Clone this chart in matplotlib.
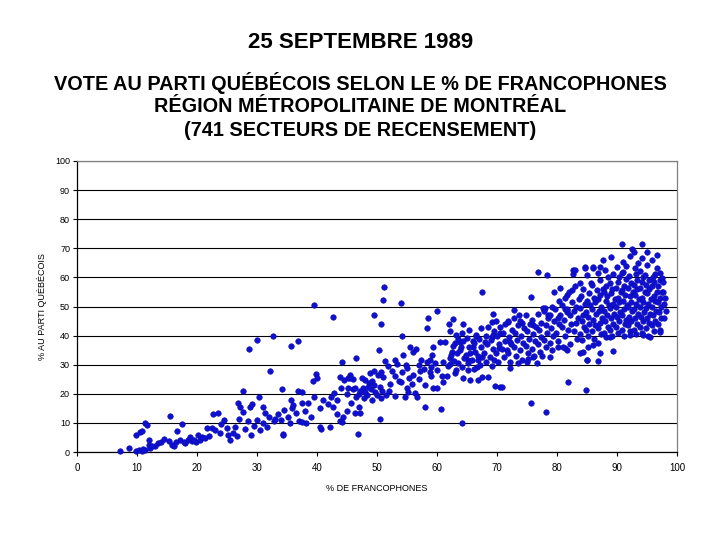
import matplotlib
matplotlib.use("Agg")
import matplotlib.pyplot as plt

plt.rcParams['font.family'] = ['Liberation Sans', 'DejaVu Sans']

title_main = "25 SEPTEMBRE 1989"
title_sub = ["VOTE AU PARTI QUÉBÉCOIS SELON LE % DE FRANCOPHONES",
             "RÉGION MÉTROPOLITAINE DE MONTRÉAL",
             "(741 SECTEURS DE RECENSEMENT)"]
x_label = "% DE FRANCOPHONES"
y_label = "% AU PARTI QUÉBÉCOIS"
x_ticks = [0, 10, 20, 30, 40, 50, 60, 70, 80, 90, 100]
y_ticks = [0, 10, 20, 30, 40, 50, 60, 70, 80, 90, 100]

# (% francophones, % Parti Québécois)
secteurs_faibles = [
    (7.2, 0.3), (8.7, 1.4), (9.8, 0.5), (10.3, 0.8), (10.8, 0.3), (11.3, 0.7), (9.8, 5.8), (10.5, 6.9),
    (10.9, 7.2), (11.3, 10.0), (11.7, 9.2), (12.0, 4.0), (12.0, 2.5), (12.2, 1.5), (13.5, 3.0), (14.0, 3.3),
    (15.5, 12.4), (15.4, 3.8), (15.8, 2.5), (16.2, 2.0), (16.7, 7.2), (17.5, 9.6), (17.2, 4.0), (18.0, 3.0),
    (18.5, 4.2), (19.2, 3.8), (19.8, 3.5), (20.5, 4.1), (20.8, 5.0), (21.3, 4.8), (21.7, 8.2), (22.5, 8.2),
    (22.7, 13.0), (23.8, 6.5), (24.5, 11.0), (25.0, 8.2), (25.2, 5.8), (25.5, 4.1), (26.3, 8.6), (26.6, 5.5),
    (27.7, 21.0), (26.8, 17.0), (27.2, 15.5), (27.7, 13.7), (28.7, 35.4), (30.0, 38.5), (32.7, 40.0),
    (32.2, 27.8), (34.2, 21.6), (35.7, 36.4), (36.8, 38.0), (28.0, 8.0), (28.5, 10.5), (29.0, 6.0),
    (29.5, 9.0), (30.0, 11.0), (30.5, 7.5), (31.0, 10.0), (31.7, 8.5), (28.8, 15.5), (30.3, 19.0),
    (31.0, 15.5), (32.0, 12.0), (32.8, 10.5), (33.5, 13.0), (34.0, 11.0), (34.5, 14.5), (35.2, 12.0),
    (35.8, 15.0), (36.5, 13.5), (34.3, 5.8), (35.7, 18.0), (37.0, 10.5), (13.0, 2.0), (14.5, 4.5),
    (17.8, 3.5), (18.8, 5.2), (19.5, 4.0), (20.2, 6.0), (22.0, 5.5), (23.0, 7.5), (23.5, 13.5), (24.0, 9.5),
    (26.0, 6.5), (27.0, 11.5), (29.2, 16.5), (31.3, 13.5), (33.0, 11.5), (36.0, 16.0), (37.5, 17.0),
    (11.0, 1.0), (12.5, 2.0), (16.5, 3.5), (34.3, 6.2), (36.8, 21.0), (35.5, 10.0),
]

secteurs_mixtes = [
    (39.5, 50.5), (42.7, 46.4), (49.5, 47.1), (50.7, 44.0), (51.2, 56.7), (51.0, 52.2), (54.0, 51.2),
    (58.5, 46.0), (58.3, 42.6), (60.0, 48.5), (54.2, 40.0), (50.3, 35.0), (55.5, 36.0), (56.5, 35.4),
    (44.2, 31.0), (46.5, 32.3), (51.3, 31.3), (53.0, 31.6), (39.8, 26.8), (39.3, 24.4),
    (43.8, 25.8), (44.5, 24.7), (45.2, 25.5), (46.0, 25.0), (45.5, 26.3), (48.0, 24.7), (48.6, 23.7),
    (49.2, 24.5), (48.8, 27.0), (49.5, 28.0), (50.2, 26.5), (51.0, 25.8), (50.6, 27.5), (51.8, 29.5),
    (52.5, 28.0), (53.0, 26.0), (53.6, 24.5), (54.2, 27.5), (54.8, 29.8), (55.3, 25.5), (55.8, 23.5),
    (52.2, 23.2), (53.4, 30.2), (57.0, 30.0), (57.8, 28.5), (58.4, 31.0), (59.0, 29.2), (59.6, 30.6),
    (60.0, 28.2), (58.8, 27.5), (57.4, 31.5), (40.5, 15.0), (41.0, 18.0), (41.8, 16.5), (42.3, 19.0),
    (42.7, 15.5), (43.3, 17.9), (40.7, 7.9), (42.2, 8.6), (46.8, 6.2), (50.5, 11.3), (58.0, 15.5),
    (45.0, 14.0), (45.7, 16.8), (46.3, 13.4), (47.0, 15.5), (43.3, 13.0), (43.8, 10.5), (44.3, 12.0),
    (47.0, 20.0), (47.6, 22.0), (48.3, 19.5), (49.0, 21.5), (49.7, 20.5), (50.5, 22.3), (50.7, 18.5),
    (51.5, 19.6), (53.0, 19.2), (54.7, 18.9), (56.3, 20.3), (56.7, 18.9), (38.0, 14.0), (38.5, 17.0),
    (39.0, 12.0), (39.5, 19.0), (38.2, 10.0), (37.5, 20.5), (44.0, 22.0), (45.0, 20.0), (46.0, 21.5),
    (47.5, 25.5), (52.0, 21.0), (55.0, 22.0), (56.0, 26.5), (57.0, 25.0), (58.0, 23.0), (59.0, 26.0),
    (40.0, 25.5), (45.5, 25.4), (46.3, 22.0), (45.2, 22.0), (46.5, 19.0), (47.2, 21.0), (47.8, 18.5),
    (48.5, 22.5), (49.5, 23.0), (50.0, 19.5), (49.2, 18.0), (48.0, 20.5), (50.8, 21.0), (44.2, 10.3),
    (37.5, 10.3), (47.2, 13.4), (42.8, 20.3), (40.5, 8.6), (54.3, 33.3), (59.3, 36.0), (59.2, 33.3),
    (58.8, 31.6), (56.0, 34.5), (55.0, 29.0), (60.7, 14.8), (59.3, 22.0), (55.2, 20.5), (54.0, 24.0),
]

secteurs_majoritaires = [
    (60.5, 37.8), (61.3, 37.8), (63.0, 37.5), (63.8, 37.8), (64.2, 41.0), (65.5, 34.0), (66.0, 36.0),
    (66.5, 40.2), (68.0, 37.8), (69.2, 39.5), (69.3, 40.2), (70.5, 41.0), (69.5, 31.6), (70.3, 35.7),
    (71.7, 35.0), (72.2, 37.8), (57.2, 28.0), (61.0, 31.0), (62.2, 32.3), (63.5, 30.6), (65.2, 31.6),
    (66.8, 31.6), (67.5, 32.6), (65.2, 28.2), (66.7, 29.2), (66.8, 24.7), (64.3, 25.4), (65.5, 24.7),
    (67.5, 25.8), (68.5, 25.8), (69.7, 22.7), (70.5, 22.3), (60.0, 22.0), (60.8, 26.0), (61.7, 26.0),
    (64.2, 10.0), (62.7, 45.7), (62.0, 44.0), (64.3, 44.0), (67.5, 55.0), (69.3, 47.4), (69.2, 44.7),
    (72.8, 48.8), (73.7, 47.0), (71.8, 44.7), (74.2, 44.3), (76.0, 43.6), (75.7, 53.3), (76.8, 61.9),
    (78.3, 60.8), (82.7, 62.5), (79.5, 55.0), (80.5, 56.4), (81.7, 54.0), (78.0, 49.5), (78.5, 47.0),
    (80.5, 47.0), (81.7, 48.8), (72.2, 29.0), (73.5, 30.5), (75.0, 31.0), (76.7, 30.6), (78.8, 32.6),
    (75.7, 16.8), (78.2, 13.7), (81.8, 24.0), (84.8, 21.3), (70.8, 22.3), (76.0, 32.6), (77.5, 33.0),
    (75.2, 32.0), (80.2, 36.0), (81.3, 35.7), (83.8, 34.0), (85.0, 31.6), (82.5, 55.7), (83.8, 58.0),
    (84.7, 63.6), (82.7, 61.0), (81.3, 49.0), (77.7, 49.5), (64.0, 36.0), (63.5, 39.0), (66.0, 38.0),
    (61.8, 29.5), (62.5, 34.5), (61.0, 24.0), (63.0, 27.0), (62.2, 41.5),
    (62.1, 30.2), (62.4, 33.2), (62.6, 36.3), (63.2, 28.1), (62.9, 31.2), (63.4, 34.1), (63.1, 40.2),
    (64.1, 29.1), (64.5, 32.2), (63.9, 35.1), (64.4, 38.2), (65.1, 30.5), (64.8, 33.5), (65.4, 36.1),
    (65.0, 39.2), (65.3, 42.0), (66.2, 28.5), (65.9, 31.5), (66.4, 34.5), (66.1, 37.5), (66.5, 40.0),
    (67.1, 30.0), (66.8, 33.0), (67.4, 36.0), (67.0, 39.0), (67.3, 42.5), (68.2, 31.0), (67.8, 34.0),
    (68.4, 37.0), (68.1, 40.0), (68.5, 43.0), (69.1, 29.5), (68.9, 32.5), (69.4, 35.5), (69.0, 38.5),
    (69.5, 41.5), (70.2, 31.0), (69.8, 34.0), (70.4, 37.0), (70.0, 40.0), (70.5, 43.0), (69.9, 45.0),
    (71.1, 32.5), (70.8, 35.5), (71.3, 38.0), (71.0, 41.0), (71.4, 44.0), (72.1, 31.0), (71.8, 34.0),
    (72.4, 37.0), (72.0, 39.5), (72.5, 42.0), (71.9, 45.0), (73.1, 33.0), (72.8, 36.0), (73.4, 38.5),
    (73.0, 41.0), (73.5, 43.5), (72.9, 46.0), (74.2, 31.5), (73.8, 35.0), (74.4, 37.5), (74.0, 40.0),
    (74.5, 42.5), (73.9, 45.0), (75.1, 34.0), (74.8, 36.5), (75.4, 39.0), (75.0, 41.5), (75.5, 44.0),
    (74.9, 47.0), (76.2, 33.0), (75.8, 35.5), (76.4, 38.0), (76.0, 40.5), (76.5, 43.0), (75.9, 45.5),
    (77.1, 34.5), (76.8, 37.0), (77.3, 39.5), (77.0, 42.0), (77.4, 44.5), (76.9, 47.5), (78.2, 36.0),
    (77.8, 38.5), (78.4, 41.0), (78.1, 43.5), (78.5, 46.0), (77.9, 48.5), (79.1, 35.0), (78.8, 37.5),
    (79.4, 40.0), (79.0, 42.5), (79.5, 45.0), (78.9, 47.0), (79.2, 50.0),
]

secteurs_francophones = [
    (80.2, 38.0), (79.8, 41.0), (80.4, 44.0), (80.1, 46.0), (79.7, 49.0), (80.3, 52.0),
    (81.3, 40.0), (80.8, 43.0), (81.2, 45.5), (81.6, 48.0), (80.9, 50.5), (81.4, 53.0),
    (82.1, 37.0), (81.8, 42.0), (82.4, 44.0), (82.2, 47.0), (81.7, 49.0), (82.5, 51.5), (82.0, 55.0),
    (83.3, 39.0), (82.8, 41.5), (83.1, 44.5), (83.5, 46.0), (82.9, 48.5), (83.2, 50.0), (83.6, 52.5),
    (83.0, 57.0), (84.2, 38.5), (83.9, 40.5), (84.5, 43.0), (84.1, 45.0), (84.4, 47.0), (83.8, 49.5),
    (84.6, 51.0), (84.0, 53.5), (84.3, 56.0), (85.1, 40.0), (84.8, 42.0), (85.4, 44.0), (85.2, 46.5),
    (84.9, 48.0), (85.5, 50.5), (85.0, 52.0), (85.3, 54.5), (85.6, 58.0), (86.2, 39.0), (85.9, 41.5),
    (86.4, 43.5), (86.0, 45.5), (86.5, 47.5), (85.8, 49.0), (86.3, 51.5), (86.1, 53.0), (86.6, 55.5),
    (85.9, 57.5), (87.3, 40.5), (86.8, 42.5), (87.1, 44.5), (87.5, 46.0), (87.0, 48.5), (87.4, 50.0),
    (86.9, 52.5), (87.2, 54.0), (87.6, 56.0), (87.1, 59.0), (88.2, 39.5), (87.8, 41.0), (88.5, 43.0),
    (88.0, 45.0), (88.3, 47.0), (87.9, 48.5), (88.6, 50.5), (88.1, 52.0), (88.4, 53.5), (87.8, 55.0),
    (88.2, 57.0), (88.5, 60.0), (89.1, 40.0), (88.8, 42.0), (89.4, 44.0), (89.0, 46.0), (89.5, 47.5),
    (88.9, 49.5), (89.3, 51.0), (89.6, 52.5), (89.0, 54.5), (89.2, 56.0), (88.8, 58.0), (89.4, 61.0),
    (90.2, 41.0), (89.8, 43.0), (90.4, 45.0), (90.0, 46.5), (90.5, 48.0), (89.9, 50.0), (90.3, 51.5),
    (90.1, 53.0), (90.6, 55.0), (89.8, 56.5), (90.2, 58.5), (90.4, 60.0), (91.1, 40.0), (90.8, 42.0),
    (91.3, 44.0), (91.5, 45.5), (90.9, 47.0), (91.2, 49.0), (91.6, 50.5), (91.0, 52.0), (91.4, 54.0),
    (90.8, 55.5), (91.2, 57.0), (91.5, 59.5), (91.0, 62.0), (92.2, 41.5), (91.8, 43.5), (92.4, 45.0),
    (92.0, 46.5), (92.5, 48.5), (91.9, 50.0), (92.3, 51.5), (92.1, 53.5), (92.6, 55.0), (91.8, 56.5),
    (92.3, 58.0), (92.0, 60.5), (93.1, 40.5), (92.8, 42.0), (93.4, 44.0), (93.0, 46.0), (93.5, 47.5),
    (92.9, 49.0), (93.2, 51.0), (93.6, 52.5), (93.0, 54.0), (93.3, 56.0), (92.8, 57.5), (93.4, 59.0),
    (93.1, 61.0), (94.2, 41.0), (93.8, 43.0), (94.4, 45.0), (94.0, 46.5), (94.5, 48.0), (93.9, 50.0),
    (94.3, 51.5), (94.1, 53.0), (94.6, 55.0), (93.8, 56.5), (94.2, 58.5), (94.4, 60.0), (95.1, 40.0),
    (94.8, 42.5), (95.4, 44.5), (95.0, 46.0), (95.5, 47.5), (94.9, 49.5), (95.2, 51.0), (95.6, 52.5),
    (95.0, 54.5), (95.3, 56.0), (94.8, 57.5), (95.4, 59.0), (96.2, 41.5), (95.8, 43.5), (96.4, 45.0),
    (96.0, 47.0), (96.5, 48.5), (95.9, 50.0), (96.3, 52.0), (96.1, 53.5), (96.6, 55.0), (95.8, 57.0),
    (96.2, 58.5), (96.4, 61.0), (97.1, 42.0), (96.8, 44.0), (97.3, 46.0), (97.0, 48.0), (97.4, 50.0),
    (96.9, 51.5), (97.2, 53.0), (97.5, 55.0), (96.8, 57.0), (97.1, 59.0), (97.9, 46.0), (98.1, 48.5),
    (97.8, 51.0), (98.0, 53.0), (97.7, 55.0),
    (90.8, 71.5), (94.2, 71.5), (92.5, 69.8), (92.8, 68.7), (92.2, 67.4), (95.0, 68.7), (96.7, 67.7),
    (94.2, 66.7), (95.8, 66.0), (95.0, 64.3), (87.7, 66.0), (89.0, 67.0), (91.0, 65.3), (93.5, 65.0),
    (84.7, 63.2), (86.0, 63.2), (87.2, 63.6), (90.0, 63.6), (93.0, 63.2), (93.8, 62.2), (96.7, 63.2),
    (97.2, 61.5), (85.0, 60.8), (86.8, 61.5), (90.8, 61.5), (94.7, 60.8), (96.0, 60.1), (97.5, 59.8),
    (97.7, 58.4), (92.2, 40.2), (94.3, 40.2), (95.5, 39.5), (97.2, 41.2), (88.8, 39.5), (86.8, 37.5),
    (86.0, 36.8), (85.2, 36.0), (84.3, 34.4), (87.2, 34.0), (89.3, 34.7), (85.0, 31.6), (86.8, 31.3),
    (83.0, 62.5), (86.0, 63.6), (81.0, 36.0), (81.7, 35.0), (88.0, 62.5), (91.5, 64.0),
]

points = secteurs_faibles + secteurs_mixtes + secteurs_majoritaires + secteurs_francophones
pct_francophones = [p[0] for p in points]
pct_pq = [p[1] for p in points]

fig = plt.figure(figsize=(7.2, 5.4), dpi=100)
ax = fig.add_axes([77/720, 88/540, 600/720, 291/540])

ax.scatter(pct_francophones, pct_pq, s=16, c='#1010D0', edgecolors='#0A0AB0',
           linewidths=0.4, zorder=3, clip_on=False)

ax.set_xlim(0, 100)
ax.set_ylim(0, 100)
ax.set_xticks(x_ticks)
ax.set_yticks(y_ticks)
ax.tick_params(axis='x', labelsize=7, length=3, width=0.8, color='black', pad=5)
ax.tick_params(axis='y', labelsize=6.5, length=3, width=0.8, color='black', pad=2)
ax.yaxis.grid(True, color='black', linewidth=0.8)
ax.set_axisbelow(True)
for side in ['left', 'bottom']:
    ax.spines[side].set_color('black')
    ax.spines[side].set_linewidth(0.9)
for side in ['top', 'right']:
    ax.spines[side].set_color('#808080')
    ax.spines[side].set_linewidth(0.9)

ax.set_xlabel(x_label, fontsize=6.5, labelpad=8)
ax.set_ylabel(y_label, fontsize=6.5, labelpad=6)

fig.text(361/720, 1 - 43/540, title_main, ha='center', va='center',
         fontsize=16, fontweight='bold')
for i, line in enumerate(title_sub):
    fig.text(360/720, 1 - (83 + 23.5*i)/540, line, ha='center', va='center',
             fontsize=14.3, fontweight='bold')

fig.savefig('out.png', dpi=100)
